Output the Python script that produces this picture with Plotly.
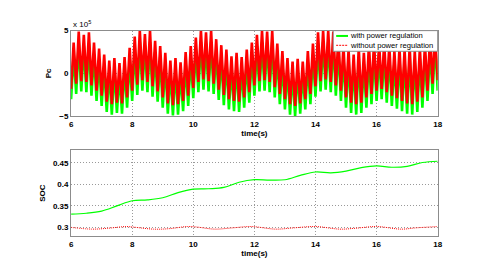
import numpy as np
import plotly.graph_objects as go

# ---------------- data ----------------
# Pc (x 10^5): spike peaks (6 per second) and troughs between them, 6 s .. 18 s
red_peak = [
    3.6, 4.9, 4.5, 4.8, 3.6, 2.9,
    2.2, 1.5, 1.8, 1.2, 1.9, 3.0,
    4.3, 5.0, 4.6, 5.0, 3.8, 3.2,
    2.4, 1.5, 1.8, 1.3, 2.5, 3.2,
    4.2, 5.0, 4.8, 5.0, 4.0, 3.3,
    2.8, 2.0, 2.4, 1.9, 2.8, 3.6,
    4.5, 5.0, 4.9, 5.0, 3.5, 2.6,
    1.8, 1.4, 1.7, 1.4, 2.6, 3.5,
    4.8, 5.0, 5.0, 4.9, 4.2, 3.2,
    2.8, 2.2, 3.0, 2.4, 3.4, 3.6,
    3.5, 3.6, 3.3, 2.6, 3.0, 2.8,
    3.2, 2.6, 3.0, 3.4, 4.2, 5.0,
]
red_trough = [
    -1.8, -1.2, -0.9, -1.0, -1.4, -2.0,
    -2.6, -3.3, -3.6, -3.4, -3.5, -2.8,
    -2.0, -1.3, -0.8, -1.0, -1.5, -2.1,
    -2.8, -3.5, -3.7, -3.6, -3.2, -2.6,
    -1.7, -1.0, -0.7, -0.9, -1.2, -1.9,
    -2.5, -3.0, -3.2, -3.3, -2.8, -2.2,
    -1.4, -0.9, -0.8, -1.0, -1.6, -2.4,
    -3.0, -3.6, -3.8, -3.5, -3.0, -2.4,
    -1.5, -0.9, -0.7, -1.0, -1.4, -2.0,
    -2.8, -3.4, -3.6, -3.4, -2.8, -2.4,
    -2.0, -1.8, -2.2, -2.6, -2.9, -3.2,
    -3.5, -3.6, -3.3, -2.8, -2.0, -1.2,
    -0.8,
]
green_peak = [
    2.3, 3.6, 3.2, 3.5, 2.3, 1.6,
    0.9, 0.2, 0.5, -0.1, 0.6, 1.7,
    3.0, 3.7, 3.3, 3.7, 2.5, 1.9,
    1.1, 0.2, 0.5, 0.0, 1.2, 1.9,
    2.9, 3.7, 3.5, 3.7, 2.7, 2.0,
    1.5, 0.7, 1.1, 0.6, 1.5, 2.3,
    3.2, 3.7, 3.6, 3.7, 2.2, 1.3,
    0.5, 0.1, 0.4, 0.1, 1.3, 2.2,
    3.5, 3.7, 3.7, 3.6, 2.9, 1.9,
    1.5, 0.9, 1.7, 1.1, 2.1, 2.3,
    2.2, 2.3, 2.0, 1.3, 1.7, 1.5,
    1.9, 1.3, 1.7, 2.1, 2.9, 3.7,
]
green_trough = [
    -3.0, -2.4, -2.1, -2.2, -2.6, -3.2,
    -3.8, -4.5, -4.8, -4.6, -4.7, -4.0,
    -3.2, -2.5, -2.0, -2.2, -2.7, -3.3,
    -4.0, -4.7, -4.9, -4.8, -4.4, -3.8,
    -2.9, -2.2, -1.9, -2.1, -2.4, -3.1,
    -3.7, -4.2, -4.4, -4.5, -4.0, -3.4,
    -2.6, -2.1, -2.0, -2.2, -2.8, -3.6,
    -4.2, -4.8, -5.0, -4.7, -4.2, -3.6,
    -2.7, -2.1, -1.9, -2.2, -2.6, -3.2,
    -4.0, -4.6, -4.8, -4.6, -4.0, -3.6,
    -3.2, -3.0, -3.4, -3.8, -4.1, -4.4,
    -4.7, -4.8, -4.5, -4.0, -3.2, -2.4,
    -2.0,
]

# SOC
soc_t_green = [6, 6.5, 7, 7.5, 8, 8.5, 9, 9.5, 10, 10.5, 11, 11.5, 12,
               12.5, 13, 13.5, 14, 14.5, 15, 15.5, 16, 16.5, 17, 17.5, 18]
soc_green = [0.331, 0.333, 0.338, 0.350, 0.362, 0.364, 0.369, 0.381, 0.389,
             0.390, 0.393, 0.405, 0.411, 0.410, 0.411, 0.421, 0.429, 0.427,
             0.431, 0.439, 0.443, 0.440, 0.442, 0.451, 0.454]
soc_t_red = [6, 6.7, 7.2, 7.8, 8.0, 8.7, 9.2, 9.8, 10.1, 10.7, 11.3, 11.9,
             12.7, 13.3, 14.0, 14.8, 15.3, 16.0, 16.8, 17.3, 18]
soc_red = [0.300, 0.296, 0.298, 0.302, 0.301, 0.296, 0.297, 0.302, 0.301,
           0.296, 0.299, 0.302, 0.296, 0.299, 0.302, 0.296, 0.298, 0.302,
           0.296, 0.299, 0.302]

x_ticks = [6, 8, 10, 12, 14, 16, 18]
pc_ticks = [-5, 0, 5]
soc_ticks = [0.30, 0.35, 0.40, 0.45]
soc_tick_text = ["0.3", "0.35", "0.4", "0.45"]
series_names = ["with power regulation", "without power regulation"]

# ---------------- build zigzag series ----------------
def zigzag(troughs, peaks):
    vals = []
    for i, tr in enumerate(troughs):
        vals.append(tr)
        if i < len(peaks):
            vals.append(peaks[i])
    return vals

red_pc = zigzag(red_trough, red_peak)
green_pc = zigzag(green_trough, green_peak)
t_pc = 6 + np.arange(len(red_pc)) / 12.0

GREEN = "#00ff00"
RED = "#ff0000"
FONT = "Liberation Sans, Arial, sans-serif"
FRAME = "#8c8c8c"

fig = go.Figure()

fig.add_trace(go.Scatter(x=t_pc, y=green_pc, mode="lines",
                         line=dict(color=GREEN, width=2.6), showlegend=False,
                         xaxis="x", yaxis="y"))
fig.add_trace(go.Scatter(x=t_pc, y=red_pc, mode="lines",
                         line=dict(color=RED, width=2.6), showlegend=False,
                         xaxis="x", yaxis="y"))

fig.add_trace(go.Scatter(x=soc_t_green, y=soc_green, mode="lines",
                         line=dict(color=GREEN, width=1.2, shape="spline"),
                         name=series_names[0], showlegend=False,
                         xaxis="x2", yaxis="y2"))
fig.add_trace(go.Scatter(x=soc_t_red, y=soc_red, mode="lines",
                         line=dict(color=RED, width=1, dash="1px,1px", shape="spline"),
                         name=series_names[1], showlegend=False,
                         xaxis="x2", yaxis="y2"))

tickfont = dict(family=FONT, size=8, color="black", weight="bold")
common = dict(showline=True, mirror=True, linecolor=FRAME, linewidth=1,
              showgrid=True, gridcolor="#999999", griddash="1px,2px", gridwidth=1,
              zeroline=False, ticks="", tickfont=tickfont)

W, H = 480, 261
def px(x):
    return x / W
def py(y):
    return 1 - y / H

xd = [px(62), px(434)]

# legend drawn as a box with sample lines and labels
lg_x0, lg_x1, lg_y0, lg_y1 = 328, 434, 19.3, 40.7
shapes = [
    dict(type="rect", xref="paper", yref="paper", x0=px(lg_x0), x1=px(lg_x1),
         y0=py(lg_y1), y1=py(lg_y0), fillcolor="white",
         line=dict(color=FRAME, width=1), layer="above"),
    dict(type="line", xref="paper", yref="paper", x0=px(331), x1=px(343),
         y0=py(24.8), y1=py(24.8), line=dict(color=GREEN, width=2), layer="above"),
    dict(type="line", xref="paper", yref="paper", x0=px(331), x1=px(343),
         y0=py(34.5), y1=py(34.5), line=dict(color=RED, width=1, dash="2px,1px"),
         layer="above"),
]
annotations = [
    dict(text="x 10<sup>5</sup>", xref="paper", yref="paper",
         x=px(62), y=py(19.5), xanchor="left", yanchor="bottom", showarrow=False,
         font=dict(family=FONT, size=8, color="black")),
    dict(text=series_names[0], xref="paper", yref="paper", x=px(343.5), y=py(24.8),
         xanchor="left", yanchor="middle", showarrow=False,
         font=dict(family=FONT, size=7.6, color="black")),
    dict(text=series_names[1], xref="paper", yref="paper", x=px(343.5), y=py(34.5),
         xanchor="left", yanchor="middle", showarrow=False,
         font=dict(family=FONT, size=7.6, color="black")),
]

fig.update_layout(
    width=W, height=H,
    margin=dict(l=0, r=0, t=0, b=0),
    paper_bgcolor="white", plot_bgcolor="white",
    font=dict(family=FONT, size=8, color="black"),
    showlegend=False,
    xaxis=dict(domain=xd, range=[6, 18], tickvals=x_ticks, anchor="y",
               title=dict(text="time(s)", standoff=2,
                          font=dict(family=FONT, size=8, weight="bold")),
               **common),
    yaxis=dict(domain=[py(108), py(19.3)], range=[-5, 5],
               tickvals=pc_ticks, anchor="x",
               title=dict(text="Pc", standoff=6,
                          font=dict(family=FONT, size=8, weight="bold")),
               **common),
    xaxis2=dict(domain=xd, range=[6, 18], tickvals=x_ticks, anchor="y2",
                title=dict(text="time(s)", standoff=2,
                           font=dict(family=FONT, size=8, weight="bold")),
                **common),
    yaxis2=dict(domain=[py(232), py(143)], range=[0.28, 0.48],
                tickvals=soc_ticks, ticktext=soc_tick_text, anchor="x2",
                title=dict(text="SOC", standoff=6,
                           font=dict(family=FONT, size=8, weight="bold")),
                **common),
    shapes=shapes,
    annotations=annotations,
)

fig.write_html("out.html")
